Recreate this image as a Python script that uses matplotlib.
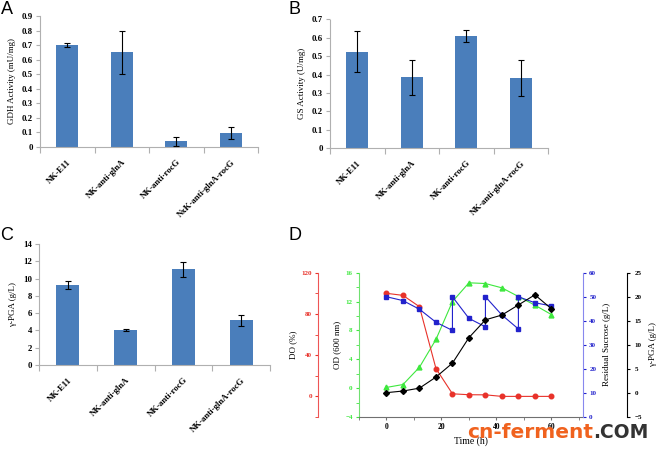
import matplotlib
matplotlib.use("Agg")
import matplotlib.pyplot as plt
from matplotlib.ticker import MultipleLocator

plt.rcParams['font.family'] = 'Liberation Serif'
plt.rcParams['font.weight'] = 'bold'

strains = ['NK-E11', 'NK-anti-glnA', 'NK-anti-rocG', 'NK-anti-glnA-rocG']
strains_a = ['NK-E11', 'NK-anti-glnA', 'NK-anti-rocG', 'NxK-anti-glnA-rocG']

gdh = [0.70, 0.65, 0.04, 0.095]
gdh_err = [0.015, 0.148, 0.03, 0.04]
gs = [0.525, 0.385, 0.61, 0.38]
gs_err = [0.11, 0.095, 0.035, 0.097]
pga = [9.3, 4.05, 11.05, 5.15]
pga_err = [0.45, 0.1, 0.85, 0.6]

time = [0, 6, 12, 18, 24, 30, 36, 42, 48, 54, 60]
do = [100, 98, 87, 27, 2.5, 1.6, 1.5, 0, 0, 0, 0]
od = [0.1, 0.5, 2.9, 6.75, 12.0, 14.6, 14.5, 13.9, 12.7, 11.5, 10.2]
pga_t = [0.06, 0.4, 1.0, 3.3, 6.2, 11.5, 15.2, 16.2, 18.3, 20.4, 17.5]
suc_time = [0, 6, 12, 18, 24, 24, 30, 36, 36, 42, 48, 48, 54, 60]
sucrose = [50, 48.4, 44.8, 39.4, 36, 50, 41, 37.5, 50, 42.4, 36.6, 50, 47.5, 46.2]

W, H = 659, 453
fig = plt.figure(figsize=(W / 100, H / 100), dpi=100)

bar_color = '#4a7ebb'
grey = '#b0b0b0'


def px(l, t, r, b):
    return [l / W, 1 - b / H, (r - l) / W, (b - t) / H]


def bar_panel(rect, vals, errs, labels, ylim, ystep, ylabel, fmt):
    ax = fig.add_axes(px(*rect))
    pos = range(len(vals))
    ax.bar(pos, vals, width=0.4, color=bar_color, zorder=2)
    ax.errorbar(pos, vals, yerr=errs, fmt='none', ecolor='black',
                elinewidth=0.8, capsize=2, capthick=0.8, zorder=3)
    ax.set_xlim(-0.5, len(vals) - 0.5)
    ax.set_ylim(*ylim)
    ax.set_xticks([i - 0.5 for i in range(len(vals) + 1)])
    ax.set_xticklabels([])
    ax.set_xticks(list(pos), minor=True)
    ax.set_xticklabels(labels, minor=True, rotation=45, ha='right',
                       rotation_mode='anchor', fontsize=6.3)
    ax.tick_params(axis='x', which='major', length=4, color=grey)
    ax.tick_params(axis='x', which='minor', length=0, pad=8)
    ax.yaxis.set_major_locator(MultipleLocator(ystep))
    ax.yaxis.set_major_formatter(fmt)
    ax.tick_params(axis='y', length=3, color=grey, labelsize=6.3, pad=2)
    for s in ['top', 'right']:
        ax.spines[s].set_visible(False)
    for s in ['left', 'bottom']:
        ax.spines[s].set_color(grey)
        ax.spines[s].set_linewidth(0.8)
    ax.set_ylabel(ylabel, fontsize=6.5, labelpad=4)
    return ax


def dec(x, p):
    if abs(x) < 1e-9:
        return '0'
    return f'{x:.1f}'


def integ(x, p):
    return f'{x:.0f}'


axA = bar_panel((40, 16, 258, 147), gdh, gdh_err, strains_a, (0, 0.9), 0.1,
                'GDH Activity (mU/mg)', dec)
axB = bar_panel((330, 19.5, 548, 148), gs, gs_err, strains, (0, 0.7), 0.1,
                'GS Activity (U/mg)', dec)
axC = bar_panel((39, 244, 270, 365), pga, pga_err, strains, (0, 14), 2,
                'γ-PGA (g/L)', integ)

# panel D
red, green, blue = '#e8322a', '#3ee83e', '#2222cc'
ax = fig.add_axes(px(359, 272.7, 583, 417))
ax.plot(time, od, color=green, marker='^', ms=3.5, lw=0.8, zorder=3)
ax.set_xlim(-10, 71.5)
ax.set_ylim(-4, 16)
ax.yaxis.set_major_locator(MultipleLocator(4))
ax.yaxis.set_minor_locator(MultipleLocator(2))
ax.xaxis.set_major_locator(MultipleLocator(20))
ax.xaxis.set_minor_locator(MultipleLocator(10))
ax.spines['top'].set_visible(False)
ax.spines['right'].set_visible(False)
ax.spines['left'].set_color('#70e070')
ax.spines['bottom'].set_color('#707070')
ax.tick_params(axis='y', which='both', colors=green, labelsize=5, length=2.5, pad=2)
ax.tick_params(axis='x', which='both', labelsize=5.5, length=2.5, color='#707070', pad=2)
ax.set_ylabel('OD (600 nm)', fontsize=6.5, labelpad=3)
ax.set_xlabel('Time (h)', fontsize=7, labelpad=4)

ax_do = ax.twinx()
ax_do.plot(time, do, color=red, marker='o', ms=3.3, lw=0.8)
ax_do.set_ylim(-20, 120)
ax_do.yaxis.set_label_position('left')
ax_do.yaxis.tick_left()
ax_do.spines['left'].set_position(('axes', -0.183))
for s in ['top', 'right', 'bottom']:
    ax_do.spines[s].set_visible(False)
ax_do.spines['left'].set_color('#ee5555')
ax_do.yaxis.set_major_locator(MultipleLocator(40))
ax_do.yaxis.set_minor_locator(MultipleLocator(20))
ax_do.tick_params(axis='y', which='both', colors=red, labelsize=5, length=2.5, pad=2)
ax_do.set_ylabel('DO (%)', fontsize=6.5, labelpad=3)

ax_s = ax.twinx()
ax_s.plot(suc_time, sucrose, color=blue, marker='s', ms=3, lw=0.8)
ax_s.set_ylim(0, 60)
ax_s.yaxis.set_major_locator(MultipleLocator(10))
for s in ['top', 'left', 'bottom']:
    ax_s.spines[s].set_visible(False)
ax_s.spines['right'].set_color('#8888ee')
ax_s.tick_params(axis='y', colors=blue, labelsize=5, length=2.5, pad=2)
ax_s.set_ylabel('Residual Sucrose (g/L)', fontsize=6.5, labelpad=5)

ax_p = ax.twinx()
ax_p.plot(time, pga_t, color='black', marker='D', ms=3, lw=0.8)
ax_p.set_ylim(-5, 25)
ax_p.yaxis.set_major_locator(MultipleLocator(5))
ax_p.spines['right'].set_position(('axes', 1.196))
for s in ['top', 'left', 'bottom']:
    ax_p.spines[s].set_visible(False)
ax_p.tick_params(axis='y', labelsize=5, length=2.5, pad=3)
ax_p.set_ylabel('γ-PGA (g/L)', fontsize=6.5, labelpad=5)

# panel letters
for lab, x, y in [('A', 7, 10), ('B', 295, 10), ('C', 7, 235), ('D', 295, 235)]:
    fig.text(x / W, 1 - y / H, lab, fontsize=13, fontweight='normal',
             family='Liberation Sans', ha='center', va='center')

# watermark
fig.text(467 / W, 1 - 438 / H, 'cn-ferment', fontsize=14.5, fontweight='bold',
         family='DejaVu Sans', color='#f0621e', va='baseline', ha='left')
fig.text(593 / W, 1 - 438 / H, '.COM', fontsize=13.5, fontweight='bold',
         family='DejaVu Sans', color='#333333', va='baseline', ha='left')

fig.savefig('out.png', dpi=100)
